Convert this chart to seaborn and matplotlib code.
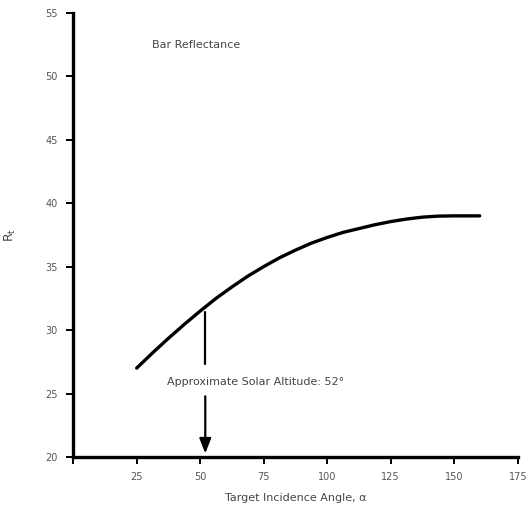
import matplotlib
matplotlib.use("Agg")
import matplotlib.pyplot as plt
import seaborn as sns
import pandas as pd

# Bar reflectance versus target incidence angle
incidence_angle = [25, 31.25, 37.5, 43.75, 50, 56.25, 62.5, 68.75, 75, 81.25, 87.5,
                   93.75, 100, 106.25, 112.5, 118.75, 125, 131.25, 137.5, 143.75,
                   150, 155, 160]
reflectance = [27.0, 28.2, 29.35, 30.45, 31.5, 32.5, 33.4, 34.25, 35.0, 35.7, 36.3,
               36.85, 37.3, 37.7, 38.0, 38.3, 38.55, 38.75, 38.9, 38.98,
               39.0, 39.0, 39.0]

x_ticks = [0, 25, 50, 75, 100, 125, 150, 175]
x_tick_labels = ["", "25", "50", "75", "100", "125", "150", "175"]
y_ticks = [20, 25, 30, 35, 40, 45, 50, 55]
y_tick_labels = ["20", "25", "30", "35", "40", "45", "50", "55"]

solar_altitude = 52

sns.set_style("ticks")
plt.rcParams["font.family"] = ["DejaVu Sans"]

df = pd.DataFrame({"angle": incidence_angle, "R": reflectance})

fig = plt.figure(figsize=(5.30, 5.14), dpi=100)
ax = fig.add_axes([0.138, 0.111, 0.839, 0.864])

sns.lineplot(data=df, x="angle", y="R", ax=ax, color="black", linewidth=2.4)

ax.set_xlim(0, 175)
ax.set_ylim(20, 55)
ax.set_xticks(x_ticks)
ax.set_xticklabels(x_tick_labels)
ax.set_yticks(y_ticks)
ax.set_yticklabels(y_tick_labels)

for side in ("top", "right"):
    ax.spines[side].set_visible(False)
for side in ("left", "bottom"):
    ax.spines[side].set_linewidth(2.4)
    ax.spines[side].set_color("black")

ax.tick_params(axis="both", direction="out", length=5, width=1.4,
               color="black", labelsize=7, labelcolor="#555555", pad=6)

ax.set_xlabel("Target Incidence Angle, α", fontsize=8, color="#444444", labelpad=8)
ax.set_ylabel(r"R$_\mathrm{t}$", fontsize=9, color="#444444", labelpad=20)

ax.text(31, 52.5, "Bar Reflectance", fontsize=8, color="#444444", ha="left", va="center")

# Solar altitude marker: line from the curve, label, then arrow down to the axis
ax.plot([solar_altitude, solar_altitude], [31.4, 27.3], color="black", linewidth=1.6)
ax.annotate("", xy=(solar_altitude, 20.05), xytext=(solar_altitude, 25.0),
            arrowprops=dict(arrowstyle="-|>,head_length=0.9,head_width=0.35",
                            color="black", linewidth=1.6))
ax.text(37, 25.9, "Approximate Solar Altitude: 52°", fontsize=8,
        color="#444444", ha="left", va="center")

fig.savefig("out.png", dpi=100, facecolor="white")
